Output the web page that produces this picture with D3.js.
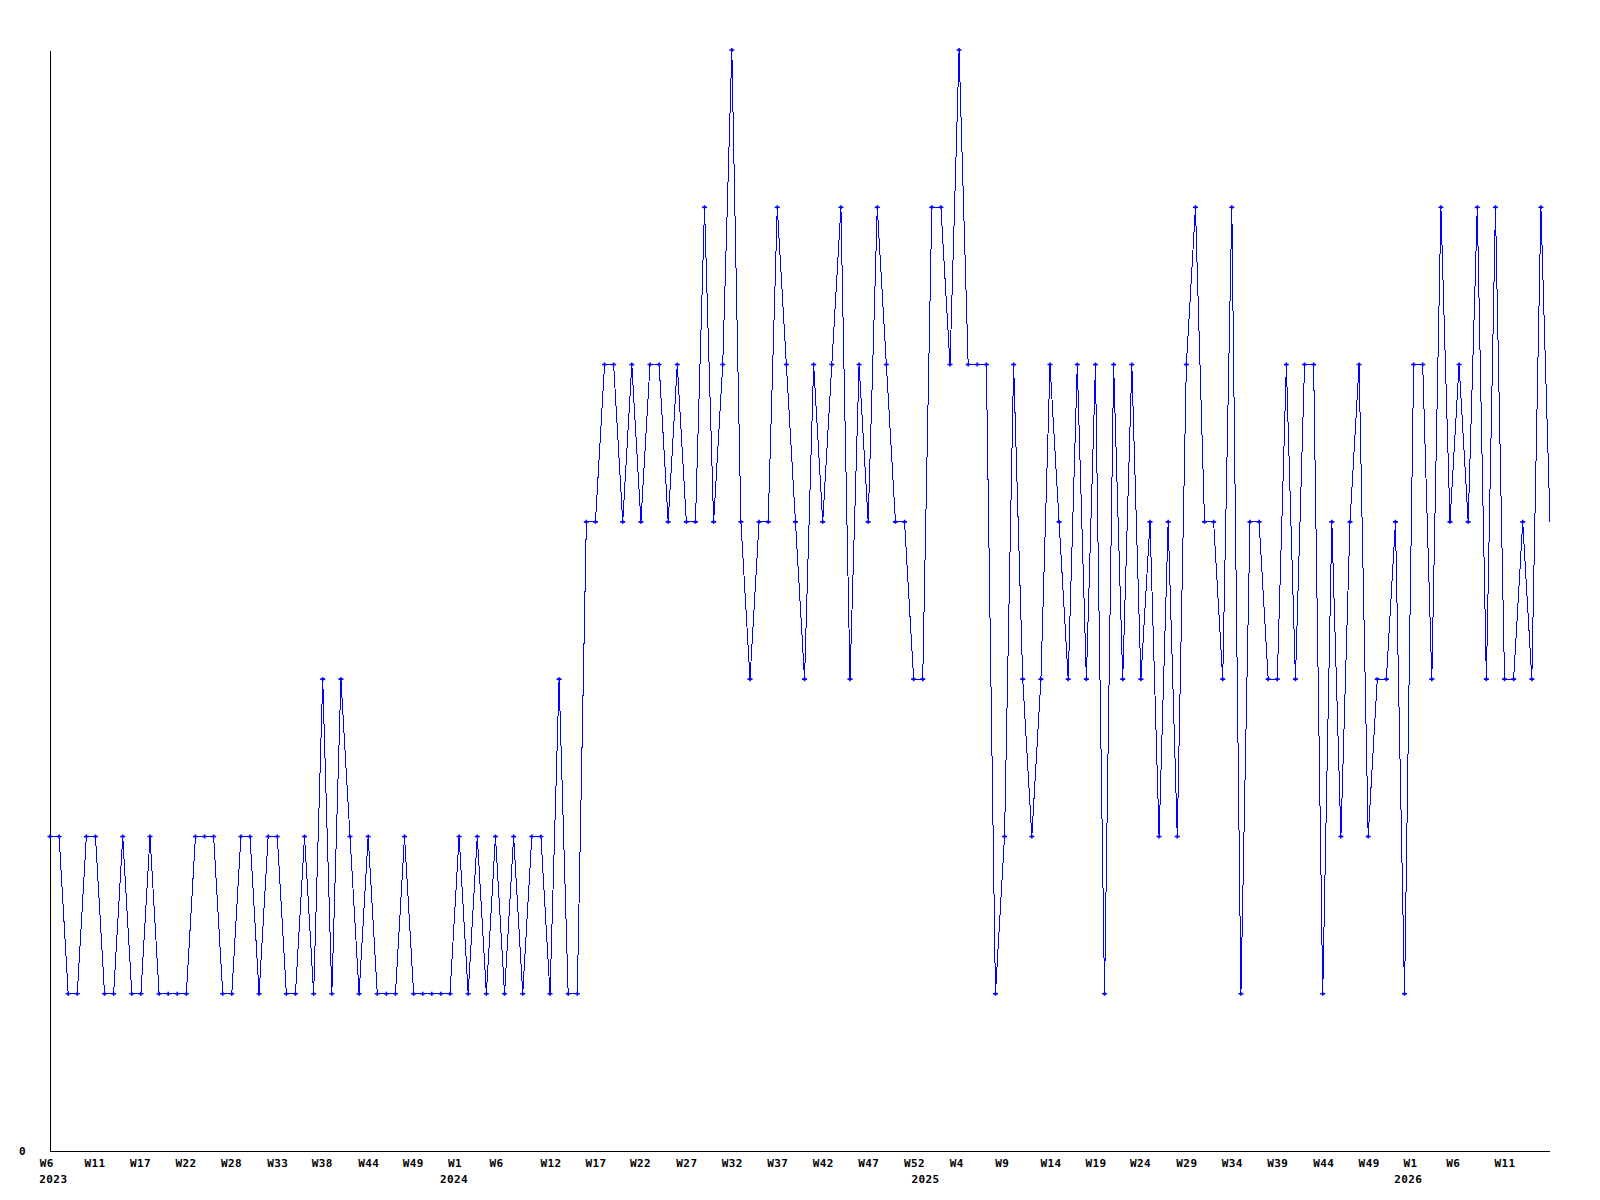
<!DOCTYPE html>
<html>
<head>
<meta charset="utf-8">
<script src="https://cdn.jsdelivr.net/npm/d3@7"></script>
<style>
  html, body { margin: 0; padding: 0; background: #fff; }
  svg { display: block; }
  .chart__axis text, .chart__year { font-family: "DejaVu Sans Mono", monospace; font-weight: bold; font-size: 11px; letter-spacing: 0.4px; fill: #000; }
  .chart__axis path { stroke: #000; stroke-width: 1; shape-rendering: crispEdges; }
  .chart__line { fill: none; stroke: #0000ff; stroke-width: 1; shape-rendering: crispEdges; }
  .chart__mark { fill: none; stroke: #0000ff; stroke-width: 1.6; }
</style>
</head>
<body>
<svg id="chart" width="1600" height="1200"></svg>
<script>
// weekly counts
var values = [
  2, 2, 1, 1, 2, 2, 1, 1, 2, 1, 1, 2, 1, 1, 1, 1, 2, 2, 2, 1, 1, 2, 2, 1, 2, 2, 1, 1, 2, 1, 3,
  1, 3, 2, 1, 2, 1, 1, 1, 2, 1, 1, 1, 1, 1, 2, 1, 2, 1, 2, 1, 2, 1, 2, 2, 1, 3, 1, 1,
  4, 4, 5, 5, 4, 5, 4, 5, 5, 4, 5, 4, 4, 6, 4, 5, 7, 4,
  3, 4, 4, 6, 5, 4, 3, 5, 4, 5, 6, 3, 5, 4, 6, 5, 4, 4,
  3, 3, 6, 6, 5, 7, 5, 5, 5, 1, 2, 5, 3, 2, 3, 5, 4, 3,
  5, 3, 5, 1, 5, 3, 5, 3, 4, 2, 4, 2, 5, 6, 4, 4, 3, 6,
  1, 4, 4, 3, 3, 5, 3, 5, 5, 1, 4, 2, 4, 5, 2, 3, 3, 4,
  1, 5, 5, 3, 6, 4, 5, 4, 6, 3, 6, 3, 3, 4, 3, 6, 4
]

// tick labels and the point index each one is centred on
var weekLabels = [
  "W6", "W11", "W17", "W22", "W28", "W33", "W38", "W44", "W49",
  "W1", "W6", "W12", "W17", "W22", "W27", "W32", "W37", "W42", "W47", "W52",
  "W4", "W9", "W14", "W19", "W24", "W29", "W34", "W39", "W44", "W49",
  "W1", "W6", "W11"
]
var weekTicks = [
  -0.4, 4.9, 9.9, 14.9, 19.9, 25, 29.9, 35, 39.9,
  44.5, 49.05, 55.05, 60, 64.9, 70, 75, 80, 85, 90, 95.05,
  99.7, 104.7, 110.05, 115, 119.9, 125, 130, 135, 140.05, 145.05,
  149.6, 154.3, 160
]

// year labels and the point index they sit under
var yearLabels = ["2023", "2024", "2025", "2026"]
var yearTicks = [0, 44.45, 96.3, 149.4]

var yMax = 7
var yTicks = [0]

var margin = { top: 50, right: 50, bottom: 49, left: 50 }
var svg = d3.select("#chart")
var width = +svg.attr("width") - margin.left - margin.right
var height = +svg.attr("height") - margin.top - margin.bottom

var x = d3.scaleLinear().domain([0, values.length - 1]).range([0, width])
var y = d3.scaleLinear().domain([0, yMax]).range([height, 0])

var root = svg.append("g")
  .attr("transform", "translate(" + margin.left + "," + margin.top + ")")

// axes
var xAxis = d3.axisBottom(x)
  .tickValues(weekTicks)
  .tickFormat(function (d, i) { return weekLabels[i] })
  .tickSize(0)
  .tickSizeOuter(0)
  .tickPadding(8.5)

var yAxis = d3.axisLeft(y)
  .tickValues(yTicks)
  .tickFormat(d3.format("d"))
  .tickSize(0)
  .tickSizeOuter(0)
  .tickPadding(24)

var xAxisEl = root.append("g")
  .attr("class", "chart__axis chart__axis--x")
  .attr("transform", "translate(0," + height + ")")
  .call(xAxis)

// domain path should only cover the data range
xAxisEl.select(".domain").attr("d", "M" + x(0) + ",0.5H" + x(values.length - 1))

root.append("g")
  .attr("class", "chart__axis chart__axis--y")
  .call(yAxis)
  .selectAll("text")
  .attr("dy", "0.36em")

// years under the week labels, first one kept inside the chart
root.append("g")
  .selectAll(".chart__year")
  .data(yearLabels)
  .enter()
  .append("text")
  .attr("class", "chart__year")
  .attr("x", function (d, i) { return i === 0 ? x(yearTicks[i]) - 10.7 : x(yearTicks[i]) })
  .attr("y", height + 32)
  .attr("text-anchor", function (d, i) { return i === 0 ? "start" : "middle" })
  .text(function (d) { return d })

// the line
var line = d3.line()
  .x(function (d, i) { return x(i) })
  .y(function (d) { return y(d) })

root.append("path")
  .datum(values)
  .attr("class", "chart__line")
  .attr("d", line)

// small cross on every point but the last (still open) one
root.append("g")
  .selectAll(".chart__mark")
  .data(values.slice(0, -1))
  .enter()
  .append("path")
  .attr("class", "chart__mark")
  .attr("transform", function (d, i) { return "translate(" + x(i) + "," + y(d) + ")" })
  .attr("d", "M-2.5,0H2.5M0,-2V2")
</script>
</body>
</html>
